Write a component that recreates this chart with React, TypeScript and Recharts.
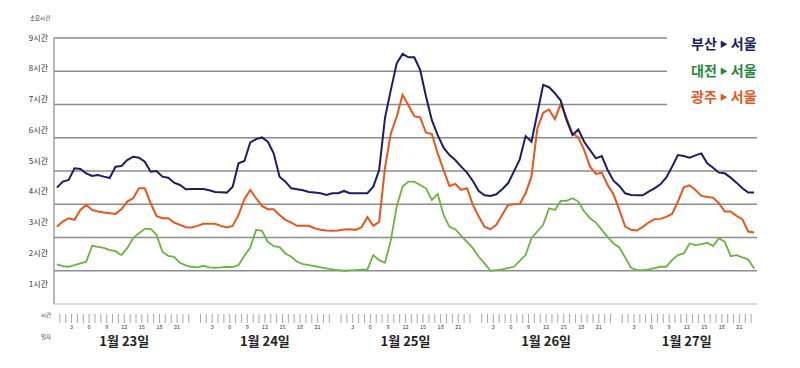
import { CartesianGrid, Line, LineChart, XAxis, YAxis } from 'recharts';

const FONT = '"Noto Sans CJK KR", "Noto Sans", sans-serif';

const COLOR_BUSAN = '#1d1d63';
const COLOR_DAEJEON = '#6bb43f';
const COLOR_GWANGJU = '#e8561c';

const DAY_LABELS = ['1월 23일', '1월 24일', '1월 25일', '1월 26일', '1월 27일'];
const HOUR_LABELS = [3, 6, 9, 12, 15, 18, 21];
const Y_TICKS = [1, 2, 3, 4, 5, 6, 7, 8, 9];

// 소요시간(시간), 1월 23일 0시부터 1시간 간격
const BUSAN = [
  4.5, 4.68, 4.73, 5.08, 5.06, 4.93, 4.85, 4.88, 4.83, 4.79, 5.13, 5.15, 5.33, 5.43, 5.4, 5.28, 4.98, 5.0, 4.83, 4.8, 4.65, 4.58, 4.45, 4.46,
  4.46, 4.46, 4.42, 4.37, 4.36, 4.35, 4.53, 5.23, 5.3, 5.86, 5.96, 6.01, 5.88, 5.53, 4.83, 4.68, 4.48, 4.45, 4.42, 4.37, 4.35, 4.33, 4.28, 4.33,
  4.33, 4.4, 4.33, 4.33, 4.33, 4.33, 4.53, 5.03, 6.6, 7.44, 8.24, 8.52, 8.42, 8.42, 8.04, 7.24, 6.53, 6.08, 5.7, 5.48, 5.33, 5.13, 4.95, 4.7,
  4.4, 4.27, 4.25, 4.3, 4.45, 4.63, 4.98, 5.35, 6.05, 5.88, 6.73, 7.59, 7.52, 7.34, 7.12, 6.53, 6.08, 6.25, 5.88, 5.63, 5.38, 5.45, 5.03, 4.71,
  4.55, 4.33, 4.28, 4.27, 4.27, 4.38, 4.48, 4.6, 4.8, 5.13, 5.48, 5.45, 5.4, 5.47, 5.53, 5.23, 5.1, 4.95, 4.93, 4.8, 4.65, 4.48, 4.35, 4.35,
];

const DAEJEON = [
  2.19, 2.14, 2.12, 2.17, 2.22, 2.27, 2.75, 2.72, 2.69, 2.62, 2.59, 2.47, 2.68, 2.98, 3.13, 3.26, 3.26, 3.08, 2.57, 2.45, 2.42, 2.24, 2.16, 2.12,
  2.1, 2.15, 2.1, 2.09, 2.1, 2.12, 2.11, 2.17, 2.45, 2.7, 3.23, 3.2, 2.87, 2.74, 2.71, 2.52, 2.42, 2.27, 2.2, 2.17, 2.14, 2.1, 2.07, 2.04,
  2.02, 2.0, 2.01, 2.02, 2.03, 2.04, 2.47, 2.32, 2.24, 2.92, 3.93, 4.53, 4.68, 4.68, 4.58, 4.48, 4.13, 4.31, 3.68, 3.32, 3.25, 3.05, 2.87, 2.68,
  2.42, 2.22, 2.0, 2.02, 2.04, 2.08, 2.12, 2.3, 2.47, 2.98, 3.18, 3.38, 3.88, 3.83, 4.1, 4.1, 4.18, 4.08, 3.78, 3.58, 3.45, 3.23, 3.02, 2.82,
  2.7, 2.4, 2.09, 2.02, 2.02, 2.04, 2.08, 2.12, 2.12, 2.32, 2.47, 2.52, 2.82, 2.77, 2.8, 2.84, 2.74, 2.98, 2.87, 2.44, 2.47, 2.4, 2.34, 2.07,
];

const GWANGJU = [
  3.32, 3.48, 3.58, 3.53, 3.83, 3.98, 3.83, 3.78, 3.75, 3.73, 3.71, 3.85, 4.08, 4.18, 4.48, 4.48, 4.03, 3.65, 3.58, 3.58, 3.45, 3.38, 3.31, 3.3,
  3.35, 3.41, 3.41, 3.41, 3.35, 3.3, 3.35, 3.68, 4.15, 4.43, 4.18, 3.95, 3.85, 3.85, 3.68, 3.53, 3.45, 3.35, 3.35, 3.35, 3.28, 3.23, 3.21, 3.2,
  3.21, 3.24, 3.25, 3.23, 3.31, 3.61, 3.35, 3.47, 5.1, 6.13, 6.63, 7.29, 6.98, 6.65, 6.61, 6.15, 6.11, 5.53, 5.03, 4.55, 4.61, 4.43, 4.48, 3.98,
  3.63, 3.32, 3.25, 3.38, 3.68, 3.98, 4.0, 4.01, 4.33, 4.83, 6.28, 6.75, 6.85, 6.56, 7.02, 6.58, 6.13, 6.01, 5.63, 5.13, 4.91, 4.95, 4.58, 4.3,
  3.83, 3.33, 3.23, 3.21, 3.32, 3.45, 3.55, 3.56, 3.62, 3.71, 4.08, 4.51, 4.57, 4.43, 4.25, 4.22, 4.2, 4.03, 3.78, 3.78, 3.65, 3.55, 3.18, 3.15,
];

const data = BUSAN.map((v, i) => ({ t: i + 0.5, busan: v, daejeon: DAEJEON[i], gwangju: GWANGJU[i] }));

// 매 시각 눈금, 자정(0시)만 비움
const HOUR_TICKS = Array.from({ length: 120 }, (_, h) => h).filter((h) => h % 24 !== 0);

const LEGEND = [
  { name: '부산', color: COLOR_BUSAN, top: 36 },
  { name: '대전', color: '#27883a', top: 63 },
  { name: '광주', color: COLOR_GWANGJU, top: 89 },
];

function YTick({ x, y, payload }: any) {
  const v = payload.value as number;
  // 원본 라벨은 격자선보다 조금씩 위로 밀려 있음
  return (
    <text x={x} y={y - 1 - (9 - v) * 2.5} textAnchor="end" dominantBaseline="central" fontSize={8} fill="#333" fontFamily={FONT}>
      {v}시간
    </text>
  );
}

function HourTick({ x, y, payload }: any) {
  const h = payload.value as number;
  const hh = h % 24;
  return (
    <g>
      <line x1={x} x2={x} y1={y + 10} y2={y + 19} stroke="#a8a8a8" strokeWidth={1} />
      {HOUR_LABELS.includes(hh) && (
        <text x={x} y={y + 23} textAnchor="middle" dominantBaseline="central" fontSize={5.5} fill="#333" fontFamily={FONT}>
          {hh}
        </text>
      )}
      {hh === 12 && (
        <text x={x} y={y + 36} textAnchor="middle" dominantBaseline="central" fontSize={13} fontWeight={700} fill="#222" fontFamily={FONT}>
          {DAY_LABELS[Math.floor(h / 24)]}
        </text>
      )}
    </g>
  );
}

function GridLine(p: any) {
  if (p.y1 > 300) return <g key={p.key} />;
  return <line key={p.key} x1={p.x1} y1={p.y1} x2={p.y1 < 120 ? 667 : p.x2} y2={p.y2} stroke="#8c8c8c" strokeWidth={1.4} />;
}

const smallText = { position: 'absolute' as const, fontSize: 5.5, color: '#333', fontFamily: FONT, lineHeight: 1 };

export default function App() {
  return (
    <div style={{ position: 'absolute', left: 0, top: 0, width: 800, height: 368, background: '#fff' }}>
      <LineChart width={800} height={368} data={data} margin={{ top: 38, right: 43, bottom: 0, left: 0 }}>
        <CartesianGrid vertical={false} horizontal={GridLine as any} />
        <XAxis
          dataKey="t"
          type="number"
          domain={[0, 120]}
          ticks={HOUR_TICKS}
          interval={0}
          height={64}
          tickSize={0}
          tickMargin={0}
          tickLine={false}
          axisLine={{ stroke: '#b4b4b4', strokeWidth: 1 }}
          tick={<HourTick />}
        />
        <YAxis
          type="number"
          domain={[1, 9]}
          ticks={Y_TICKS}
          interval={0}
          width={54}
          tickSize={0}
          tickMargin={6}
          tickLine={false}
          axisLine={{ stroke: '#9a9a9a', strokeWidth: 1.4 }}
          tick={<YTick />}
        />
        <Line dataKey="daejeon" stroke={COLOR_DAEJEON} strokeWidth={1.8} dot={false} isAnimationActive={false} />
        <Line dataKey="gwangju" stroke={COLOR_GWANGJU} strokeWidth={2} dot={false} isAnimationActive={false} />
        <Line dataKey="busan" stroke={COLOR_BUSAN} strokeWidth={2} dot={false} isAnimationActive={false} />
      </LineChart>
      <div style={{ ...smallText, left: 30, top: 16 }}>소요시간</div>
      <div style={{ ...smallText, left: 41, top: 313 }}>시간</div>
      <div style={{ ...smallText, left: 41, top: 335 }}>일자</div>
      {LEGEND.map((l) => (
        <div
          key={l.name}
          style={{
            position: 'absolute',
            left: 691,
            top: l.top,
            color: l.color,
            fontFamily: FONT,
            fontWeight: 700,
            fontSize: 14,
            lineHeight: 1,
            whiteSpace: 'nowrap',
          }}
        >
          {l.name}
          <span style={{ fontSize: 8, margin: '0 3px', verticalAlign: 2 }}>▶</span>
          서울
        </div>
      ))}
    </div>
  );
}
